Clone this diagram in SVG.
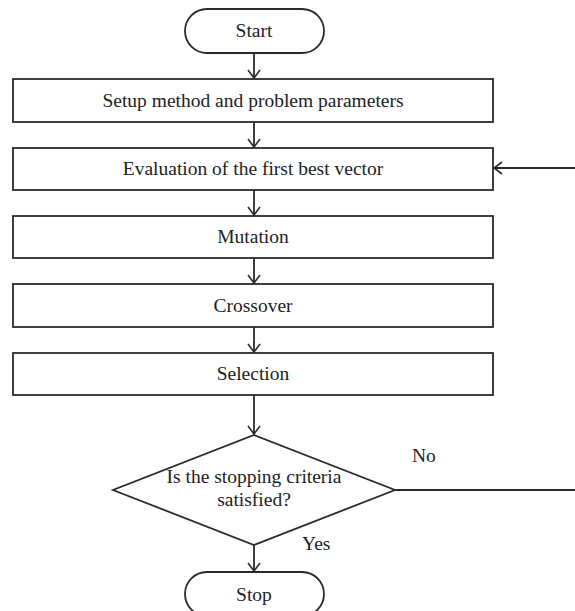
<svg xmlns="http://www.w3.org/2000/svg" width="575" height="611" viewBox="0 0 575 611">
<style>
.box{fill:#fff;stroke:#2a2a2a;stroke-width:1.8}
.t{font-family:"Liberation Serif","Times New Roman",serif;font-size:19.5px;fill:#222;text-anchor:middle}
.lbl{font-family:"Liberation Serif","Times New Roman",serif;font-size:19.5px;fill:#222}
.c{fill:none;stroke:#2a2a2a;stroke-width:1.8}
</style>
<defs>
<marker id="ah" markerUnits="userSpaceOnUse" markerWidth="10" markerHeight="14" viewBox="0 0 10 14" refX="9" refY="7" orient="auto">
<path d="M1,1 L9,7 L1,13" fill="none" stroke="#2a2a2a" stroke-width="1.6"/>
</marker>
</defs>
<rect width="575" height="611" fill="#fff"/>
<g id="connectors">
<line class="c" x1="254" y1="53" x2="254" y2="78" marker-end="url(#ah)"/>
<line class="c" x1="254" y1="122" x2="254" y2="147" marker-end="url(#ah)"/>
<line class="c" x1="254" y1="190" x2="254" y2="215" marker-end="url(#ah)"/>
<line class="c" x1="254" y1="258" x2="254" y2="283" marker-end="url(#ah)"/>
<line class="c" x1="254" y1="327" x2="254" y2="352" marker-end="url(#ah)"/>
<line class="c" x1="254" y1="395" x2="254" y2="434" marker-end="url(#ah)"/>
<line class="c" x1="254" y1="545" x2="254" y2="571" marker-end="url(#ah)"/>
<path class="c" d="M395,490 H590 V168 H494" marker-end="url(#ah)"/>
<text class="lbl" x="412" y="462">No</text>
<text class="lbl" x="302" y="550">Yes</text>
</g>
<g id="start">
<rect class="box" x="185" y="9" width="139" height="44" rx="22" ry="22"/>
<text class="t" x="254" y="37">Start</text>
</g>
<g id="setup">
<rect class="box" x="13" y="79" width="480" height="43"/>
<text class="t" x="253" y="107">Setup method and problem parameters</text>
</g>
<g id="evaluation">
<rect class="box" x="13" y="148" width="480" height="42"/>
<text class="t" x="253" y="175">Evaluation of the first best vector</text>
</g>
<g id="mutation">
<rect class="box" x="13" y="216" width="480" height="42"/>
<text class="t" x="253" y="243">Mutation</text>
</g>
<g id="crossover">
<rect class="box" x="13" y="284" width="480" height="43"/>
<text class="t" x="253" y="312">Crossover</text>
</g>
<g id="selection">
<rect class="box" x="13" y="353" width="480" height="42"/>
<text class="t" x="253" y="380">Selection</text>
</g>
<g id="decision">
<polygon class="box" points="254,435 395,490 254,545 113,490"/>
<text class="t" x="254" y="483">Is the stopping criteria</text>
<text class="t" x="254" y="506">satisfied?</text>
</g>
<g id="stop">
<rect class="box" x="185" y="572" width="139" height="44" rx="22" ry="22"/>
<text class="t" x="254" y="601">Stop</text>
</g>
</svg>
